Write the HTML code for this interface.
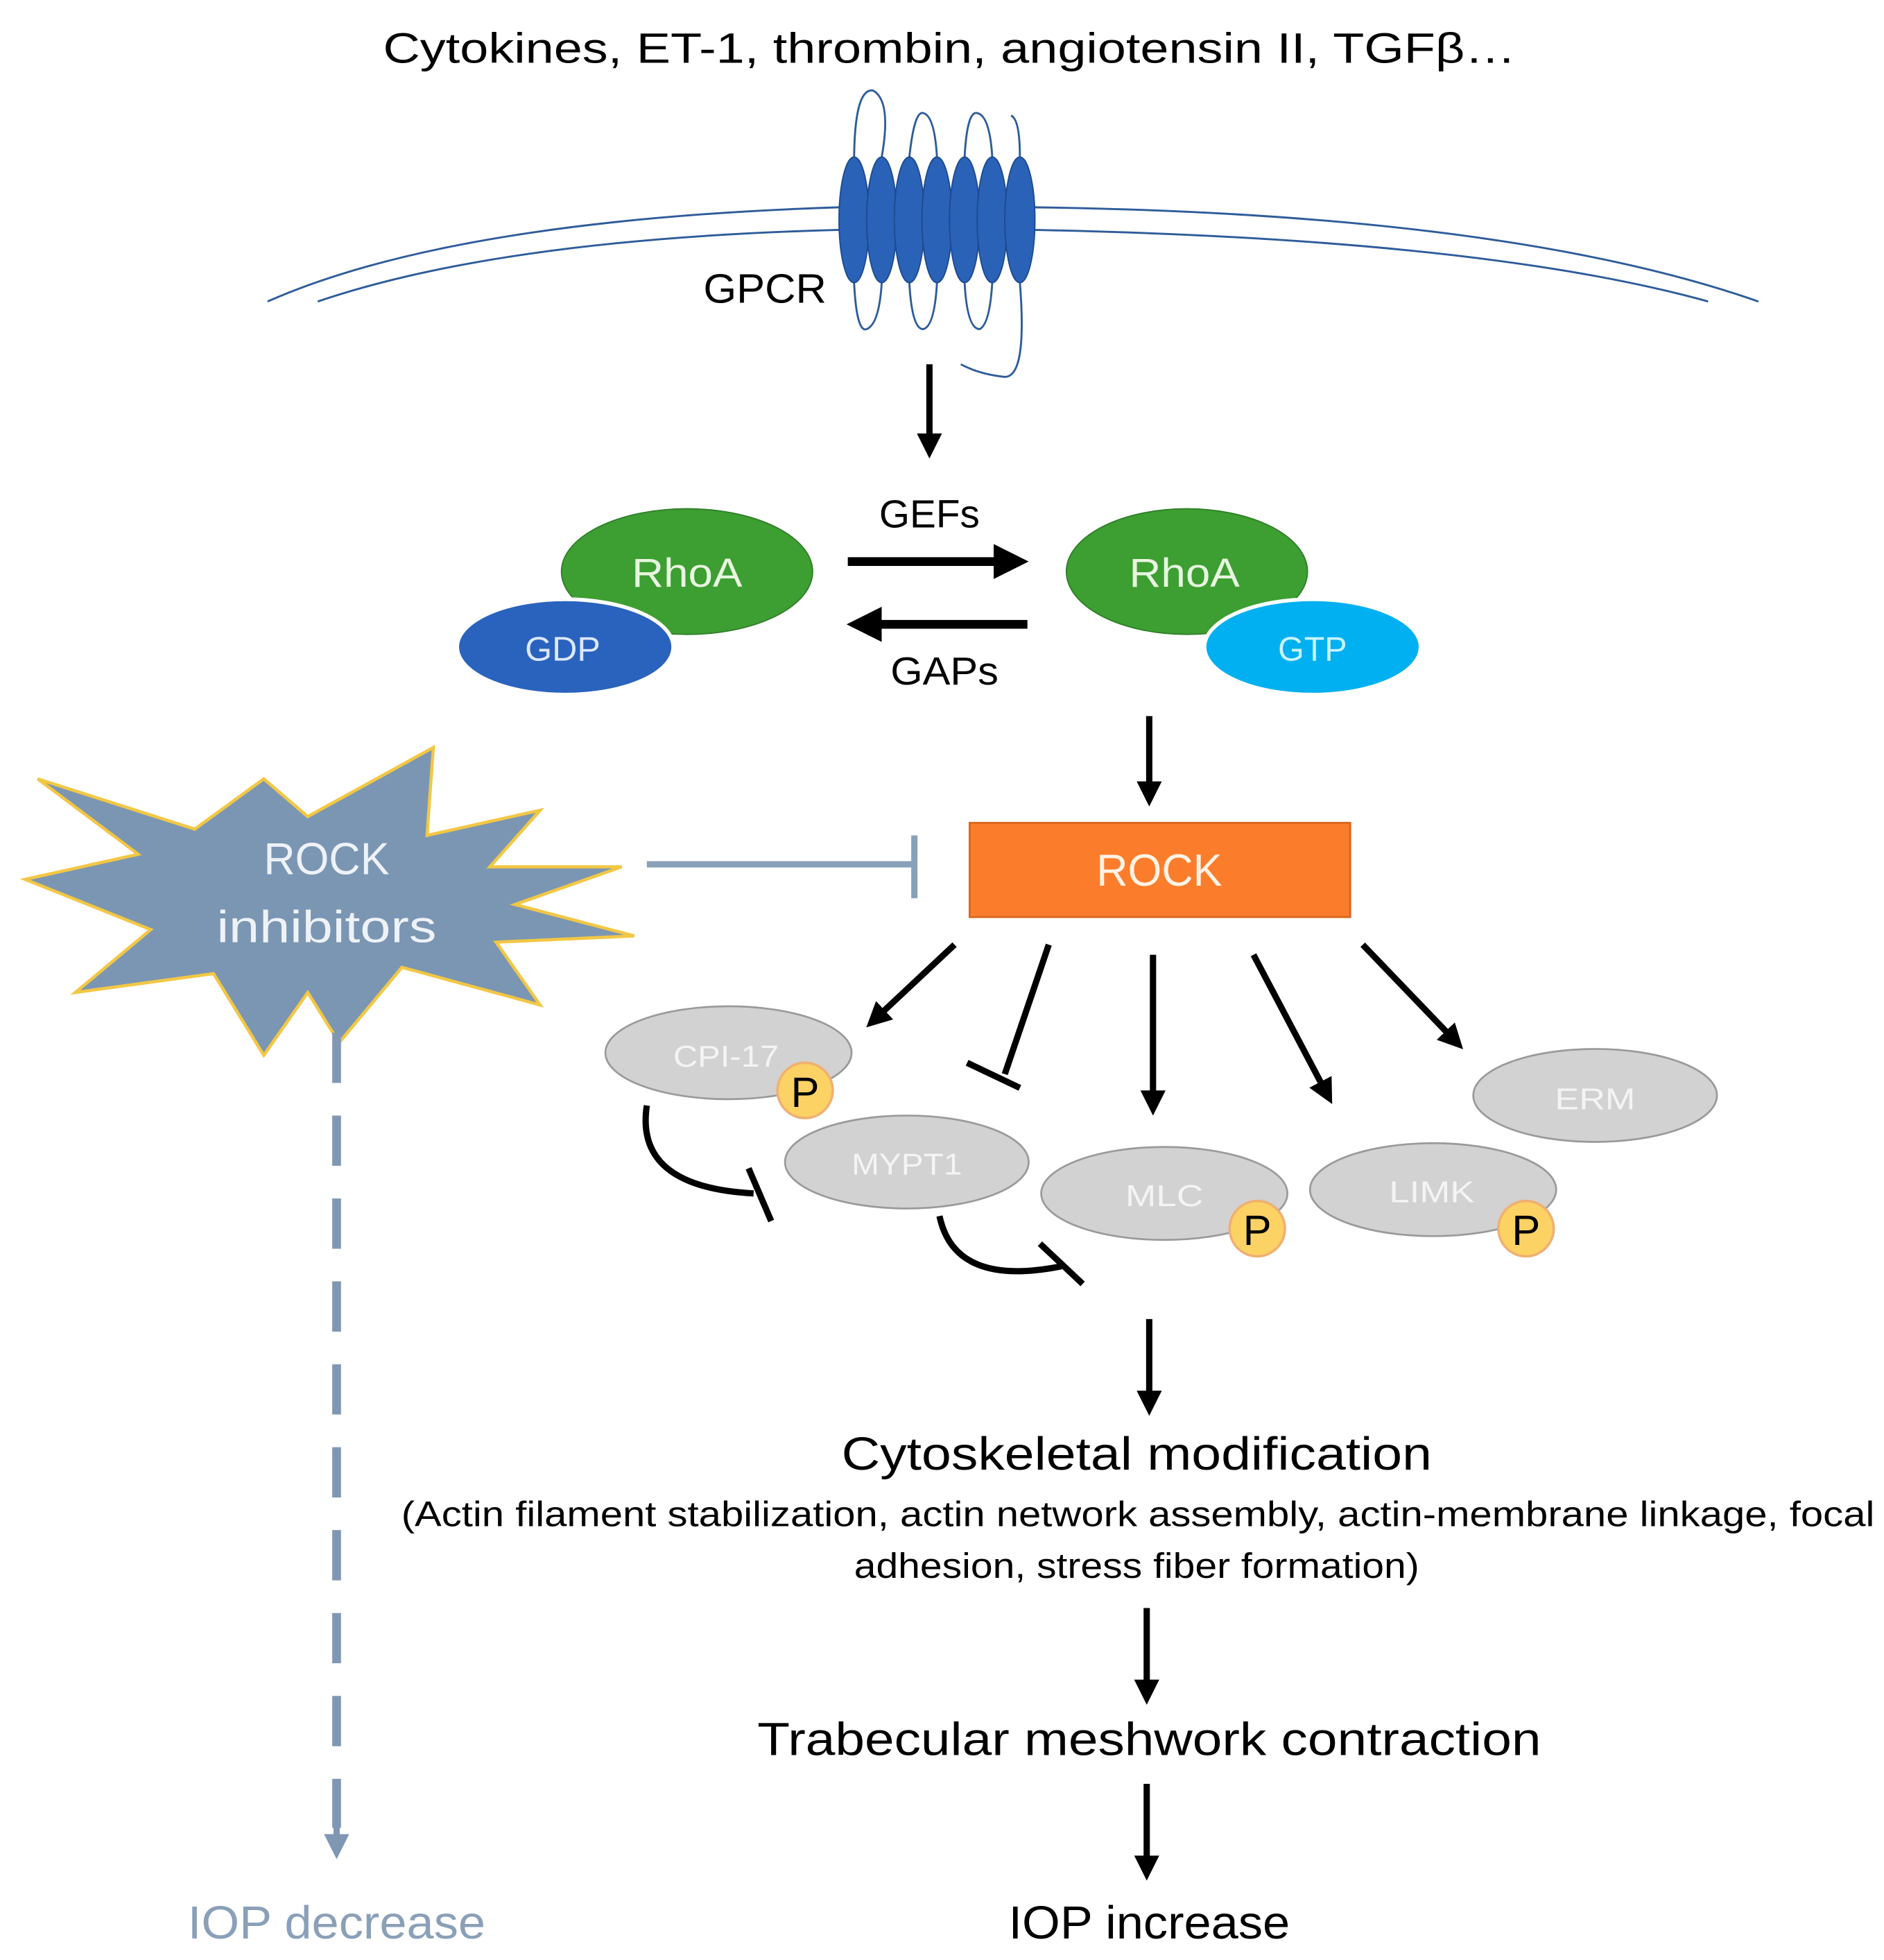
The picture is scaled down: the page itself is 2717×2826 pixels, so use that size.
<!DOCTYPE html>
<html><head><meta charset="utf-8"><style>html,body{margin:0;padding:0;background:#fff}svg{display:block}</style></head>
<body>
<svg width="2717" height="2826" viewBox="0 0 1500 1560.2" xmlns="http://www.w3.org/2000/svg" font-family="Liberation Sans, sans-serif">
<defs>
<marker id="ah" viewBox="0 0 10 10" refX="5" refY="5" markerWidth="4" markerHeight="4" orient="auto-start-reverse"><path d="M0,0 L10,5 L0,10 z" fill="#000"/></marker>
<marker id="ahg" viewBox="0 0 10 10" refX="5" refY="5" markerWidth="4" markerHeight="4" orient="auto"><path d="M0,0 L10,5 L0,10 z" fill="#7f97b2"/></marker>
</defs>
<rect width="1500" height="1561" fill="#fff"/>
<text x="756" y="50" font-size="34" text-anchor="middle" textLength="902" lengthAdjust="spacingAndGlyphs">Cytokines, ET-1, thrombin, angiotensin II, TGFβ…</text>
<!-- membrane -->
<g fill="none" stroke="#2e5c9a" stroke-width="1.6">
<path d="M213,240 Q360,175 668,165"/>
<path d="M253,240 Q400,190 668,183"/>
<path d="M822,165 Q1200,170 1400,240"/>
<path d="M822,183 Q1180,190 1360,240"/>
<!-- loops -->
<path d="M680,130 Q680,70 695,72 Q710,80 702,125"/>
<path d="M724,125 Q728,88 735,90 Q744,92 746,125"/>
<path d="M768,125 Q770,88 778,90 Q788,92 790,125"/>
<path d="M812,125 Q812,95 805,92"/>
<path d="M680,225 Q682,265 690,262 Q700,258 702,225"/>
<path d="M724,225 Q726,262 735,262 Q744,260 746,225"/>
<path d="M768,225 Q770,262 780,262 Q788,258 790,225"/>
<path d="M812,225 Q818,300 800,300 Q780,298 765,290"/>
</g>
<g fill="#2a62b8" stroke="#1d4a8c" stroke-width="1">
<ellipse cx="680" cy="175" rx="12" ry="50"/><ellipse cx="702" cy="175" rx="12" ry="50"/><ellipse cx="724" cy="175" rx="12" ry="50"/><ellipse cx="746" cy="175" rx="12" ry="50"/><ellipse cx="768" cy="175" rx="12" ry="50"/><ellipse cx="790" cy="175" rx="12" ry="50"/><ellipse cx="812" cy="175" rx="12" ry="50"/>
</g>
<text x="560" y="241" font-size="33" textLength="98" lengthAdjust="spacingAndGlyphs">GPCR</text>
<line x1="740" y1="290" x2="740" y2="355" stroke="#000" stroke-width="5" marker-end="url(#ah)"/>
<!-- RhoA -->
<text x="740" y="420" font-size="31" text-anchor="middle" textLength="80" lengthAdjust="spacingAndGlyphs">GEFs</text>
<line x1="675" y1="447" x2="805" y2="447" stroke="#000" stroke-width="7" marker-end="url(#ah)"/>
<line x1="818" y1="497" x2="688" y2="497" stroke="#000" stroke-width="7" marker-end="url(#ah)"/>
<text x="752" y="545" font-size="31" text-anchor="middle" textLength="86" lengthAdjust="spacingAndGlyphs">GAPs</text>
<ellipse cx="547" cy="455" rx="100" ry="50" fill="#3d9e32" stroke="#2f7f27"/>
<ellipse cx="450" cy="515" rx="86" ry="38" fill="#2a63bd" stroke="#fff" stroke-width="3"/>
<text x="547" y="467" font-size="32" fill="#e8f5e0" text-anchor="middle" textLength="88" lengthAdjust="spacingAndGlyphs">RhoA</text>
<text x="448" y="526" font-size="27" fill="#dce8ff" text-anchor="middle" textLength="60" lengthAdjust="spacingAndGlyphs">GDP</text>
<ellipse cx="945" cy="455" rx="96" ry="50" fill="#3d9e32" stroke="#2f7f27"/>
<ellipse cx="1045" cy="515" rx="86" ry="38" fill="#00b0f0" stroke="#fff" stroke-width="3"/>
<text x="943" y="467" font-size="32" fill="#e8f5e0" text-anchor="middle" textLength="88" lengthAdjust="spacingAndGlyphs">RhoA</text>
<text x="1045" y="526" font-size="27" fill="#c8f4ff" text-anchor="middle" textLength="55" lengthAdjust="spacingAndGlyphs">GTP</text>
<line x1="915" y1="570" x2="915" y2="632" stroke="#000" stroke-width="5" marker-end="url(#ah)"/>
<!-- ROCK -->
<rect x="772" y="655" width="303" height="75" fill="#fb7d2c" stroke="#d9641a" stroke-width="1.5"/>
<text x="923" y="705" font-size="36" fill="#fff3e6" text-anchor="middle" textLength="100" lengthAdjust="spacingAndGlyphs">ROCK</text>
<!-- star -->
<polygon points="30,620 155,660 210,620 245,650 345,595 340,665 430,645 390,690 495,690 410,720 505,745 395,750 430,800 320,770 270,830 245,790 210,840 170,775 60,790 120,740 20,700 110,680" fill="#7b96b3" stroke="#f2c744" stroke-width="2.5" stroke-linejoin="miter"/>
<text x="260" y="696" font-size="36" fill="#eef2f7" text-anchor="middle" textLength="100" lengthAdjust="spacingAndGlyphs">ROCK</text>
<text x="260" y="750" font-size="36" fill="#eef2f7" text-anchor="middle" textLength="175" lengthAdjust="spacingAndGlyphs">inhibitors</text>
<line x1="515" y1="688" x2="728" y2="688" stroke="#8aa0b8" stroke-width="5"/>
<line x1="728" y1="665" x2="728" y2="715" stroke="#8aa0b8" stroke-width="5"/>
<!-- branches -->
<g stroke="#000" stroke-width="5" fill="none">
<line x1="760" y1="752" x2="697" y2="811" marker-end="url(#ah)"/>
<line x1="835" y1="752" x2="800" y2="855"/>
<line x1="770" y1="846" x2="812" y2="866"/>
<line x1="918" y1="760" x2="918" y2="878" marker-end="url(#ah)"/>
<line x1="998" y1="760" x2="1056" y2="870" marker-end="url(#ah)"/>
<line x1="1085" y1="752" x2="1158" y2="828" marker-end="url(#ah)"/>
</g>
<!-- ellipses -->
<g fill="#d2d2d2" stroke="#9a9a9a" stroke-width="1.5">
<ellipse cx="580" cy="838" rx="98" ry="37"/>
<ellipse cx="1270" cy="872" rx="97" ry="37"/>
<ellipse cx="722" cy="925" rx="97" ry="37"/>
<ellipse cx="927" cy="950" rx="98" ry="37"/>
<ellipse cx="1141" cy="947" rx="98" ry="37"/>
</g>
<g fill="#f4f4f4" font-size="24" text-anchor="middle">
<text x="578" y="849" textLength="84" lengthAdjust="spacingAndGlyphs">CPI-17</text>
<text x="1270" y="883" textLength="64" lengthAdjust="spacingAndGlyphs">ERM</text>
<text x="722" y="935" textLength="88" lengthAdjust="spacingAndGlyphs">MYPT1</text>
<text x="927" y="960" textLength="62" lengthAdjust="spacingAndGlyphs">MLC</text>
<text x="1140" y="957" textLength="68" lengthAdjust="spacingAndGlyphs">LIMK</text>
</g>
<g fill="#fcd265" stroke="#f0b070" stroke-width="2">
<circle cx="641" cy="868" r="22"/><circle cx="1001" cy="978" r="22"/><circle cx="1215" cy="978" r="22"/>
</g>
<g font-size="34" text-anchor="middle" fill="#000">
<text x="641" y="881">P</text><text x="1001" y="991">P</text><text x="1215" y="991">P</text>
</g>
<!-- curved inhibitors -->
<g stroke="#000" stroke-width="5" fill="none">
<path d="M515,880 Q505,945 600,950"/>
<line x1="596" y1="930" x2="614" y2="972"/>
<path d="M748,968 Q760,1025 845,1008"/>
<line x1="828" y1="990" x2="862" y2="1022"/>
</g>
<!-- dashed -->
<line x1="268" y1="822" x2="268" y2="1455" stroke="#7f97b2" stroke-width="7" stroke-dasharray="40,26"/>
<line x1="268" y1="1440" x2="268" y2="1470" stroke="#7f97b2" stroke-width="5" marker-end="url(#ahg)"/>
<!-- bottom flow -->
<line x1="915" y1="1050" x2="915" y2="1117" stroke="#000" stroke-width="5" marker-end="url(#ah)"/>
<text x="905" y="1170" font-size="37" text-anchor="middle" textLength="470" lengthAdjust="spacingAndGlyphs">Cytoskeletal modification</text>
<text x="906" y="1215" font-size="28" text-anchor="middle" textLength="1173" lengthAdjust="spacingAndGlyphs">(Actin filament stabilization, actin network assembly, actin-membrane linkage, focal</text>
<text x="905" y="1256" font-size="28" text-anchor="middle" textLength="450" lengthAdjust="spacingAndGlyphs">adhesion, stress fiber formation)</text>
<line x1="913" y1="1280" x2="913" y2="1347" stroke="#000" stroke-width="5" marker-end="url(#ah)"/>
<text x="915" y="1397" font-size="37" text-anchor="middle" textLength="624" lengthAdjust="spacingAndGlyphs">Trabecular meshwork contraction</text>
<line x1="913" y1="1420" x2="913" y2="1487" stroke="#000" stroke-width="5" marker-end="url(#ah)"/>
<text x="915" y="1543" font-size="37" text-anchor="middle" textLength="224" lengthAdjust="spacingAndGlyphs">IOP increase</text>
<text x="268" y="1543" font-size="37" fill="#8aa0b8" text-anchor="middle" textLength="237" lengthAdjust="spacingAndGlyphs">IOP decrease</text>
</svg>
</body></html>
